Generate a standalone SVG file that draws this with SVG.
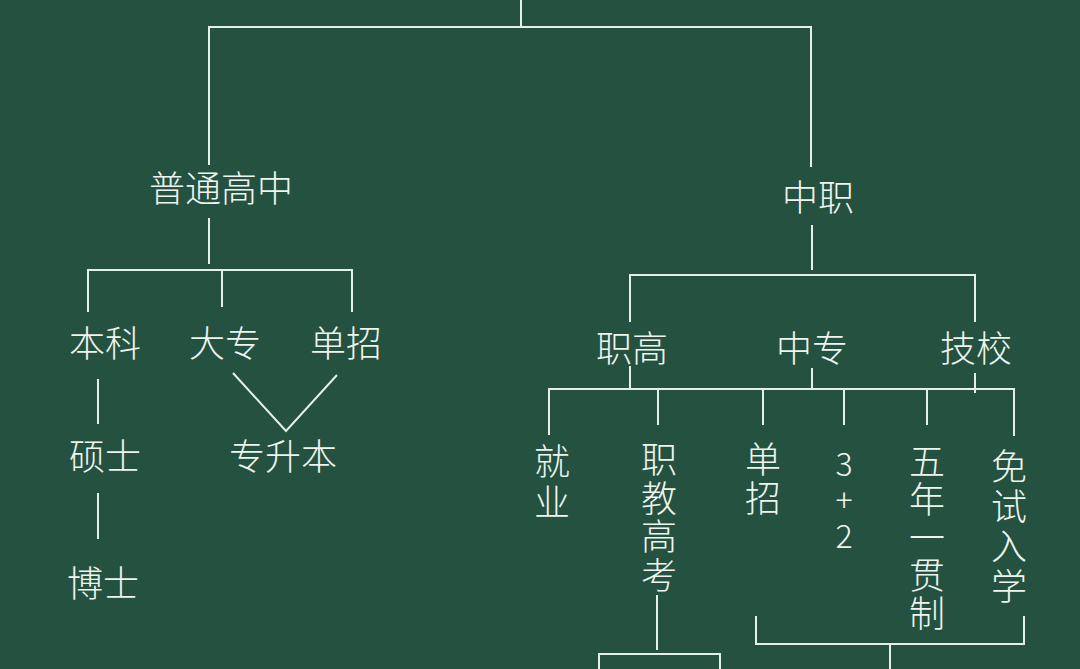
<svg xmlns="http://www.w3.org/2000/svg" width="1080" height="669" viewBox="0 0 1080 669">
<style>
.bg{fill:#245140}
.ln{fill:none;stroke:#e4f1e8;stroke-width:2;stroke-linecap:butt}
text{font-family:"Noto Sans CJK SC","Noto Sans",sans-serif;font-size:36px;font-weight:300;fill:#eef5ef;text-anchor:middle}
text.v{writing-mode:vertical-rl;text-orientation:upright;text-anchor:start}
.dg{font-size:32px}
</style>
<rect class="bg" x="0" y="0" width="1080" height="669"/>
<g id="connectors" class="ln">
<path d="M521,0 V27"/>
<path d="M209,165 V27 H811 V167"/>
<path d="M209,218 V264"/>
<path d="M88,312 V270 H352 V312"/>
<path d="M222,270 V307"/>
<path d="M233,373 L286,431 L337,375"/>
<path d="M98,379 V424"/>
<path d="M98,493 V539"/>
<path d="M812,225 V270"/>
<path d="M630,322 V275 H975 V322"/>
<path d="M630,366 V389"/>
<path d="M812,368 V389"/>
<path d="M975,373 V393"/>
<path d="M549,435 V389 H1014 V436"/>
<path d="M658,389 V425"/>
<path d="M763,389 V425"/>
<path d="M844,389 V425"/>
<path d="M927,389 V425"/>
<path d="M756,616 V644 H1024 V616"/>
<path d="M890,644 V669"/>
<path d="M657,595 V650"/>
<path d="M599,669 V654 H720 V669"/>
</g>
<g id="n-putong"><text x="221" y="202">普通高中</text></g>
<g id="n-zhongzhi"><text x="818" y="211">中职</text></g>
<g id="n-benke"><text x="105" y="357">本科</text></g>
<g id="n-dazhuan"><text x="225" y="357">大专</text></g>
<g id="n-danzhao1"><text x="346" y="357">单招</text></g>
<g id="n-shuoshi"><text x="105" y="470">硕士</text></g>
<g id="n-zhuanshengben"><text x="283" y="470">专升本</text></g>
<g id="n-boshi"><text x="103" y="597">博士</text></g>
<g id="n-zhigao"><text x="632" y="362">职高</text></g>
<g id="n-zhongzhuan"><text x="812" y="362">中专</text></g>
<g id="n-jixiao"><text x="976" y="362">技校</text></g>
<g id="n-jiuye"><text class="v" x="552" y="443" letter-spacing="5">就业</text></g>
<g id="n-zhijiao"><text class="v" x="659" y="441.5" letter-spacing="2.5">职教高考</text></g>
<g id="n-danzhao2"><text class="v" x="763" y="441.5" letter-spacing="3">单招</text></g>
<g id="n-3plus2"><text class="v dg" x="844" y="447.5" letter-spacing="4">3+2</text></g>
<g id="n-wunian"><text class="v" x="927" y="443.5" letter-spacing="2">五年一贯制</text></g>
<g id="n-mianshi"><text class="v" x="1009" y="448.5" letter-spacing="4">免试入学</text></g>
</svg>
